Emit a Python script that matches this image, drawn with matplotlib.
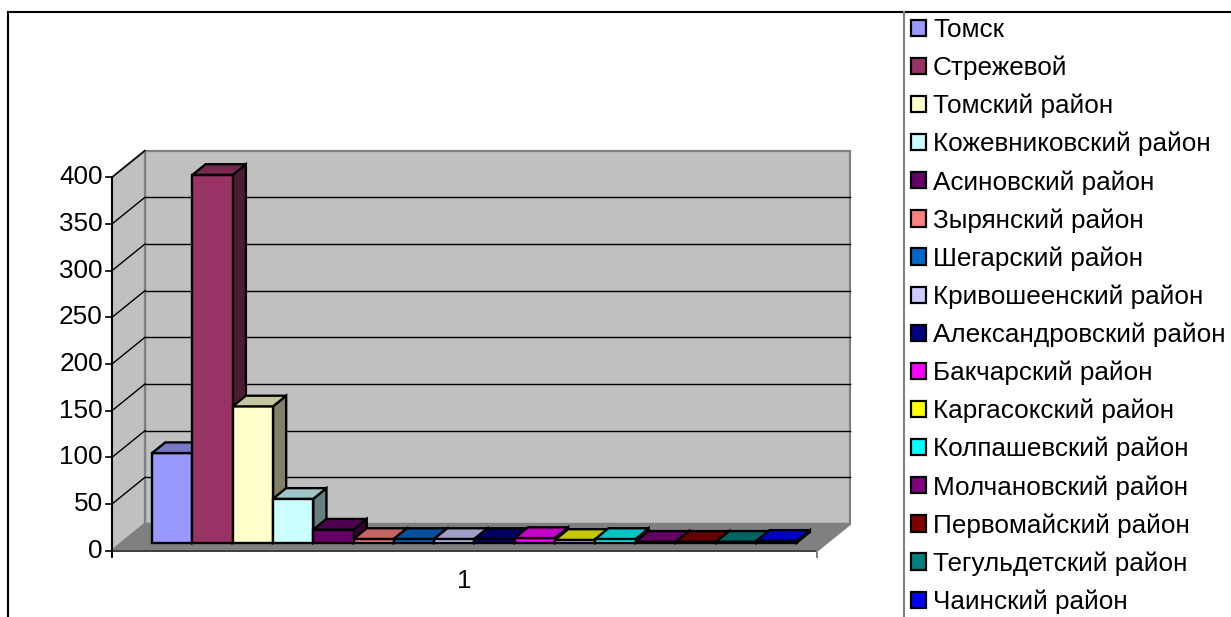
import matplotlib

matplotlib.use("Agg")
import matplotlib.pyplot as plt
from matplotlib.colors import to_rgb
from matplotlib.lines import Line2D
from matplotlib.patches import Patch, Polygon

plt.rcParams["font.family"] = ["Liberation Sans", "DejaVu Sans"]

DISTRICTS = [
    "Томск",
    "Стрежевой",
    "Томский район",
    "Кожевниковский район",
    "Асиновский район",
    "Зырянский район",
    "Шегарский район",
    "Кривошеенский район",
    "Александровский район",
    "Бакчарский район",
    "Каргасокский район",
    "Колпашевский район",
    "Молчановский район",
    "Первомайский район",
    "Тегульдетский район",
    "Чаинский район",
]
VALUES = [96, 394, 146, 47, 14, 4, 4, 4, 4, 5, 3, 4, 1, 1, 1, 2]
COLORS = [
    "#9999FF", "#993366", "#FFFFCC", "#CCFFFF", "#660066", "#FF8080",
    "#0066CC", "#CCCCFF", "#000080", "#FF00FF", "#FFFF00", "#00FFFF",
    "#800080", "#800000", "#008080", "#0000FF",
]
Y_TICKS = [0, 50, 100, 150, 200, 250, 300, 350, 400]
CATEGORY = "1"

W, H = 1231, 617
FONT = 18.8

# front plane of the plot: floor edge 112..817 px, value 0..400 at 550.7..177.3 px
FRONT_L, FRONT_R = 112.0, 817.0
ZERO_Y, TOP_Y = 550.7, 177.3
SLOTS = len(VALUES) + 1.5          # bars plus gap on both sides
UNIT_X = (FRONT_R - FRONT_L) / SLOTS
UNIT_Y = (ZERO_Y - TOP_Y) / Y_TICKS[-1]
DX = 33.0 / UNIT_X                 # depth offset of the back wall
DY = 26.7 / UNIT_Y
F0, F1 = 0.3, 0.7                  # bar depth inside the floor


def shade(color, k):
    return tuple(c * k for c in to_rgb(color))


def fig_box(x0, y0, x1, y1):
    return [x0 / W, 1 - y1 / H, (x1 - x0) / W, (y1 - y0) / H]


fig = plt.figure(figsize=(W / 100, H / 100), dpi=100)
AX_L, AX_R, AX_T, AX_B = 20.0, 880.0, 130.0, 605.0
ax = fig.add_axes(fig_box(AX_L, AX_T, AX_R, AX_B))
ax.set_xlim((AX_L - FRONT_L) / UNIT_X, (AX_R - FRONT_L) / UNIT_X)
ax.set_ylim((ZERO_Y - AX_B) / UNIT_Y, (ZERO_Y - AX_T) / UNIT_Y)
ax.axis("off")

top = Y_TICKS[-1]
wall_kw = dict(closed=True, edgecolor="#808080", linewidth=1.6, joinstyle="miter")
# back wall, side wall, floor
ax.add_patch(Polygon([(DX, DY), (SLOTS + DX, DY), (SLOTS + DX, top + DY), (DX, top + DY)],
                     facecolor="#C0C0C0", **wall_kw))
ax.add_patch(Polygon([(0, 0), (DX, DY), (DX, top + DY), (0, top)],
                     facecolor="#C0C0C0", **wall_kw))
ax.add_patch(Polygon([(0, 0), (SLOTS, 0), (SLOTS + DX, DY), (DX, DY)],
                     facecolor="#808080", **wall_kw))

for v in Y_TICKS[1:-1]:
    ax.plot([DX, SLOTS + DX], [v + DY, v + DY], color="black", linewidth=1.0, zorder=2)
for v in Y_TICKS[1:]:
    ax.plot([0, DX], [v, v + DY], color="black", linewidth=1.0, zorder=2)

# value axis and category axis on the front plane
tick_len_x = 6.0 / UNIT_X
tick_len_y = 6.5 / UNIT_Y
ax.plot([0, 0], [-tick_len_y, top], color="black", linewidth=1.4, zorder=3)
ax.plot([0, SLOTS], [0, 0], color="#404040", linewidth=1.4, zorder=3)
ax.plot([SLOTS, SLOTS], [0, -tick_len_y], color="#808080", linewidth=1.4, zorder=3)
for v in Y_TICKS:
    ax.plot([-tick_len_x, 0], [v, v], color="black", linewidth=1.2, zorder=3)
    ax.text(-tick_len_x - 0.08, v, str(v), ha="right", va="center", fontsize=FONT)
ax.text(SLOTS / 2, -32, CATEGORY, ha="center", va="center", fontsize=FONT)

# 3D columns, drawn left to right so each bar hides its neighbour's side
bar_kw = dict(closed=True, edgecolor="black", linewidth=1.7, joinstyle="miter", zorder=4)
for i, (value, color) in enumerate(zip(VALUES, COLORS)):
    x0 = 0.75 + i
    x1 = x0 + 1
    fx, fy = F0 * DX, F0 * DY
    bx, by = F1 * DX, F1 * DY
    front = [(x0 + fx, fy), (x1 + fx, fy), (x1 + fx, fy + value), (x0 + fx, fy + value)]
    side = [(x1 + fx, fy), (x1 + bx, by), (x1 + bx, by + value), (x1 + fx, fy + value)]
    cap = [(x0 + fx, fy + value), (x1 + fx, fy + value), (x1 + bx, by + value), (x0 + bx, by + value)]
    ax.add_patch(Polygon(side, facecolor=shade(color, 0.5), **bar_kw))
    ax.add_patch(Polygon(front, facecolor=color, **bar_kw))
    ax.add_patch(Polygon(cap, facecolor=shade(color, 0.78), **bar_kw))

# chart frame and legend separator
fig.add_artist(Line2D([8.3 / W, 1], [1 - 11.7 / H, 1 - 11.7 / H], color="black", linewidth=1.5))
fig.add_artist(Line2D([8.3 / W, 8.3 / W], [0, 1 - 11.7 / H], color="black", linewidth=1.5))
fig.add_artist(Line2D([903.5 / W, 903.5 / W], [0, 1 - 11.7 / H], color="#808080", linewidth=1.5))

handles = [Patch(facecolor=c, edgecolor="black", linewidth=1.6, label=n)
           for n, c in zip(DISTRICTS, COLORS)]
fig.legend(
    handles=handles,
    loc="upper left",
    bbox_to_anchor=(911 / W, 1 - 18 / H),
    frameon=False,
    fontsize=FONT,
    handlelength=0.58,
    handleheight=0.58,
    handletextpad=0.26,
    labelspacing=0.522,
    borderaxespad=0,
    borderpad=0,
)

fig.savefig("out.png", dpi=100, facecolor="white")
